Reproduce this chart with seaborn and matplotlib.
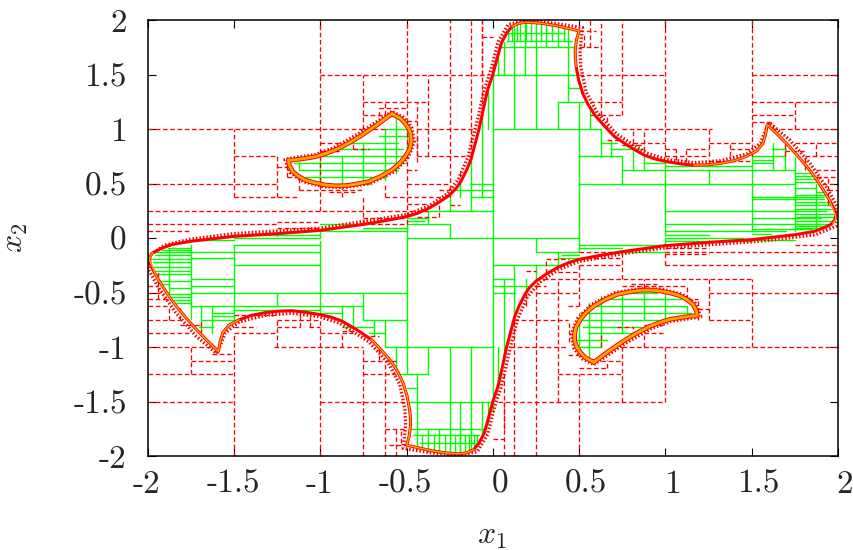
import pandas as pd
import matplotlib
matplotlib.use('Agg')
import matplotlib.pyplot as plt
import matplotlib.transforms as mtrans
import seaborn as sns

# boundary of the large region
main_x = [-1.99, -1.985, -1.97, -1.92, -1.86, -1.75, -1.61, -1.5, -1.25, -1, -0.75, -0.62, -0.5, -0.44, -0.375, -0.31, -0.25, -0.21, -0.185, -0.15, -0.127, -0.08, -0.05, -0.03, 0, 0.025, 0.05, 0.08, 0.11, 0.15, 0.2, 0.28, 0.36, 0.43, 0.5,
          0.485, 0.477, 0.478, 0.483, 0.497, 0.52, 0.55, 0.59, 0.645, 0.705, 0.79, 0.877, 0.94, 1.01, 1.09, 1.165, 1.245, 1.32, 1.4, 1.47, 1.53, 1.565, 1.58, 1.59,
          1.65, 1.7, 1.76, 1.82, 1.87, 1.915, 1.95, 1.97, 1.985, 1.987, 1.98, 1.96, 1.92, 1.86, 1.75, 1.61, 1.5, 1.25, 1, 0.75, 0.62, 0.5, 0.44, 0.375, 0.31, 0.25, 0.21, 0.185, 0.15, 0.127, 0.08, 0.05, 0.03, 0, -0.025, -0.05, -0.08, -0.11, -0.15, -0.2, -0.28, -0.36, -0.43, -0.5,
          -0.485, -0.477, -0.478, -0.483, -0.497, -0.52, -0.55, -0.59, -0.645, -0.705, -0.79, -0.877, -0.94, -1.01, -1.09, -1.165, -1.245, -1.32, -1.4, -1.47, -1.53, -1.565, -1.58, -1.59,
          -1.65, -1.7, -1.76, -1.82, -1.87, -1.915, -1.95, -1.97, -1.985, -1.99]
main_y = [-0.2, -0.165, -0.135, -0.095, -0.06, -0.03, -0.005, 0.015, 0.04, 0.07, 0.125, 0.16, 0.196, 0.225, 0.27, 0.33, 0.395, 0.46, 0.52, 0.63, 0.72, 1, 1.22, 1.36, 1.5, 1.65, 1.79, 1.88, 1.94, 1.97, 1.98, 1.97, 1.95, 1.925, 1.9,
          1.82, 1.72, 1.64, 1.57, 1.45, 1.33, 1.23, 1.13, 1.03, 0.93, 0.84, 0.76, 0.725, 0.7, 0.68, 0.667, 0.672, 0.685, 0.71, 0.75, 0.8, 0.87, 0.95, 1.04,
          0.95, 0.87, 0.765, 0.655, 0.55, 0.44, 0.35, 0.29, 0.24, 0.2, 0.165, 0.125, 0.095, 0.06, 0.03, 0.005, -0.015, -0.04, -0.07, -0.125, -0.16, -0.196, -0.225, -0.27, -0.33, -0.395, -0.46, -0.52, -0.63, -0.72, -1, -1.22, -1.36, -1.5, -1.65, -1.79, -1.88, -1.94, -1.97, -1.98, -1.97, -1.95, -1.925, -1.9,
          -1.82, -1.72, -1.64, -1.57, -1.45, -1.33, -1.23, -1.13, -1.03, -0.93, -0.84, -0.76, -0.725, -0.7, -0.68, -0.667, -0.672, -0.685, -0.71, -0.75, -0.8, -0.87, -0.95, -1.04,
          -0.95, -0.87, -0.765, -0.655, -0.55, -0.44, -0.35, -0.29, -0.24, -0.2]

# the two small lobes
lobe1_x = [-0.585, -0.67, -0.758, -0.83, -0.91, -0.97, -1.027, -1.09, -1.16, -1.185, -1.18, -1.16, -1.125, -1.085, -1.03, -0.97, -0.91, -0.854, -0.79, -0.72, -0.65, -0.585, -0.54, -0.508, -0.482, -0.473, -0.475, -0.488, -0.51, -0.536, -0.585]
lobe1_y = [1.14, 1.04, 0.945, 0.875, 0.81, 0.775, 0.746, 0.73, 0.715, 0.715, 0.67, 0.61, 0.565, 0.53, 0.505, 0.486, 0.478, 0.48, 0.495, 0.517, 0.565, 0.624, 0.685, 0.746, 0.815, 0.884, 0.95, 1.006, 1.055, 1.098, 1.14]
lobe2_x = [0.585, 0.67, 0.758, 0.83, 0.91, 0.97, 1.027, 1.09, 1.16, 1.185, 1.18, 1.16, 1.125, 1.085, 1.03, 0.97, 0.91, 0.854, 0.79, 0.72, 0.65, 0.585, 0.54, 0.508, 0.482, 0.473, 0.475, 0.488, 0.51, 0.536, 0.585]
lobe2_y = [-1.14, -1.04, -0.945, -0.875, -0.81, -0.775, -0.746, -0.73, -0.715, -0.715, -0.67, -0.61, -0.565, -0.53, -0.505, -0.486, -0.478, -0.48, -0.495, -0.517, -0.565, -0.624, -0.685, -0.746, -0.815, -0.884, -0.95, -1.006, -1.055, -1.098, -1.14]

# fuzzy edge just outside the boundaries
fuzz_x = [-2, -1.9, -1.75, -1.5, -1, -0.5, -0.375, -0.26, -0.2, -0.145, -0.085, -0.05, -0.01, 0.03, 0.09, 0.2, 0.36, 0.52,
          0.505, 0.51, 0.54, 0.605, 0.72, 0.89, 1.01, 1.165, 1.32, 1.47, 1.55, 1.6, 1.72, 1.84, 1.94, 1.995, 2,
          1.99, 1.87, 1.61, 1.5, 1, 0.75, 0.5, 0.38, 0.27, 0.2, 0.145, 0.1, 0.05, 0.01, -0.03, -0.09, -0.2, -0.36, -0.52,
          -0.505, -0.51, -0.54, -0.605, -0.72, -0.89, -1.01, -1.165, -1.32, -1.47, -1.55, -1.6, -1.72, -1.84, -1.94, -1.995, -2]
fuzz_y = [-0.17, -0.065, -0.01, 0.04, 0.09, 0.215, 0.29, 0.41, 0.54, 0.74, 1.11, 1.36, 1.55, 1.8, 1.96, 1.995, 1.97, 1.93,
          1.72, 1.57, 1.34, 1.15, 0.95, 0.78, 0.72, 0.69, 0.71, 0.77, 0.87, 1.06, 0.9, 0.68, 0.45, 0.29, 0.2,
          0.11, 0.03, -0.02, -0.035, -0.09, -0.145, -0.215, -0.29, -0.41, -0.54, -0.74, -1.01, -1.36, -1.55, -1.8, -1.96, -1.995, -1.97, -1.93,
          -1.72, -1.57, -1.34, -1.15, -0.95, -0.78, -0.72, -0.69, -0.71, -0.77, -0.87, -1.06, -0.9, -0.68, -0.45, -0.29, -0.17]
fuzz1_x = [-0.585, -0.77, -0.92, -1.03, -1.16, -1.205, -1.175, -1.095, -0.98, -0.854, -0.71, -0.57, -0.49, -0.455, -0.47, -0.52, -0.585]
fuzz1_y = [1.16, 0.965, 0.83, 0.765, 0.735, 0.72, 0.6, 0.515, 0.47, 0.465, 0.5, 0.61, 0.74, 0.88, 1.015, 1.11, 1.16]
fuzz2_x = [0.585, 0.77, 0.92, 1.03, 1.16, 1.205, 1.175, 1.095, 0.98, 0.854, 0.71, 0.57, 0.49, 0.455, 0.47, 0.52, 0.585]
fuzz2_y = [-1.16, -0.965, -0.83, -0.765, -0.735, -0.72, -0.6, -0.515, -0.47, -0.465, -0.5, -0.61, -0.74, -0.88, -1.015, -1.11, -1.16]

# red dashed boxes: horizontals are (y, x0, x1), verticals are (x, y0, y1)
red_h = [(1.75, 0.5, 0.625), (1.5, -1, -0.03), (1.5, 0.5, 1), (1.5, 1.5, 2), (1.25, -0.75, -0.375), (1.25, 0.5625, 0.75),
         (1.25, 1.5, 2), (1.125, -0.75, -0.625), (1.125, 0.625, 0.75), (1.125, 1.5, 1.75), (1.0625, 1.5, 1.625),
         (1, -2, -0.625), (1, -0.4375, -0.1), (1, 0.75, 1.27), (1, 1.625, 2), (0.875, -1, -0.875), (0.875, 0.8125, 1),
         (0.875, 1.25, 1.5), (0.875, 1.75, 2), (0.8125, 1.375, 1.5), (0.75, -1.5, -1.25), (0.75, -0.4375, -0.125),
         (0.75, 1, 1.25), (0.75, 1.81, 2), (0.625, -0.5, -0.4375), (0.625, 1.875, 2), (0.5, -2, -1.25), (0.5, -0.5, -0.25),
         (0.375, -1.5, -1.125), (0.375, -0.625, -0.25), (0.3125, -0.5, -0.375), (0.25, -2, -0.375), (0.1875, -0.75, -0.5),
         (0.125, -2, -1.25), (0.125, -0.75, -0.5), (0.0625, -2, -1.75), (0.09, -1.25, -1),
         (-1.75, -0.625, -0.5), (-1.5, 0.03, 1), (-1.5, -1, -0.5), (-1.5, -2, -1.5), (-1.25, 0.375, 0.75), (-1.25, -0.75, -0.5625),
         (-1.25, -2, -1.5), (-1.125, 0.625, 0.75), (-1.125, -0.75, -0.625), (-1.125, -1.75, -1.5), (-1.0625, -1.625, -1.5),
         (-1, 0.75, 2), (-1, 0.1, 0.4375), (-1, -1.27, -0.75), (-1, -2, -1.625), (-0.875, 0.875, 1), (-0.875, -1, -0.8125),
         (-0.875, -1.5, -1.25), (-0.875, -2, -1.75), (-0.8125, -1.5, -1.375), (-0.75, 1.25, 1.5), (-0.75, 0.125, 0.4375),
         (-0.75, -1.25, -1), (-0.75, -2, -1.81), (-0.625, 0.4375, 0.5), (-0.625, -2, -1.875), (-0.5, 1.25, 2), (-0.5, 0.25, 0.5),
         (-0.375, 0.25, 1.5), (-0.3125, 0.375, 0.5), (-0.25, 1, 2), (-0.25, 0.5, 0.75), (-0.1875, 0.5, 0.75),
         (-0.125, 1, 2), (-0.125, 0.5, 0.75), (-0.0625, 1.75, 2), (-0.09, 1, 1.25)]
red_v = [(-1.5, 0.375, 1), (-1.25, 0.375, 0.75), (-1, 0.25, 2), (-0.75, 1, 1.5), (-0.75, 0.125, 0.375), (-0.625, 1.125, 1.25),
         (-0.625, 0.375, 0.5), (-0.5, 0.125, 2), (-0.4375, 0.7, 1.25), (-0.375, 0.75, 1.5), (-0.25, 0.375, 2), (-0.125, 0.75, 2),
         (-0.0625, 1.1, 2), (0.5625, 1.75, 2), (0.625, 1.125, 2), (0.75, 1.125, 2), (0.8125, 0.875, 1), (0.875, 0.8, 1),
         (1, 0.75, 2), (1.25, 0.75, 1), (1.375, 0.75, 0.875), (1.5, 0.75, 2), (1.625, 1, 1.0625), (1.75, 1, 1.25), (1.875, 0.75, 0.875),
         (1.5, -1, -0.375), (1.25, -0.75, -0.375), (1, -1.5, -1), (1, -0.25, -0.125), (0.75, -0.375, -0.125), (0.75, -1.5, -1), (0.625, -1, -0.875),
         (0.5, -2, -1.25), (0.5, -0.625, -0.25), (0.375, -1.5, -0.375), (0.25, -2, -0.375), (0.125, -2, -0.75), (0.0625, -1.75, -1.25),
         (0.875, -1, -0.875), (-1.75, -1.25, -1), (-1.25, -1, -0.75), (-1, -2, -0.75), (-1.5, -2, -0.875), (-0.875, -1, -0.875),
         (-0.75, -2, -1), (-0.625, -2, -1.125), (-0.5625, -2, -1.75), (-1.875, -0.75, -0.625)]

# small boxes in the fuzz, only the ones that stand out
red_small_h = [(0.8, -1.0, -0.875), (0.82, -0.8125, -0.72), (0.65, -1.25, -1.19), (0.56, -1.19, -1.125), (0.4375, -1.125, -0.75), (0.42, -0.95, -0.8),
               (1.19, -0.66, -0.5), (1.07, -0.5, -0.4375), (0.3, -0.25, -0.19), (0.44, -0.31, -0.25), (0.19, -0.44, -0.31), (0.15, -1.25, -1.0),
               (1.84, -0.0625, 0.0), (1.9, 0.5, 0.6), (1.13, 0.5625, 0.625), (0.9, 0.66, 0.75), (0.85, 0.75, 0.875), (0.82, 1.0, 1.0625),
               (0.82, 1.12, 1.25), (0.71, 1.25, 1.5), (0.56, 1.87, 2), (0.5, 1.91, 2), (0.44, 1.94, 2), (0.8, 1.69, 1.81),
               (-0.8, 0.875, 1.0), (-0.82, 0.72, 0.8125), (-0.65, 1.19, 1.25), (-0.56, 1.125, 1.19), (-0.4375, 0.75, 1.125), (-0.42, 0.8, 0.95),
               (-1.19, 0.5, 0.66), (-1.07, 0.4375, 0.5), (-0.3, 0.19, 0.25), (-0.44, 0.25, 0.31), (-0.19, 0.31, 0.44), (-0.15, 1.0, 1.25),
               (-1.84, 0.0, 0.0625), (-1.9, -0.6, -0.5), (-1.13, -0.625, -0.5625), (-0.9, -0.75, -0.66), (-0.85, -0.875, -0.75), (-0.82, -1.0625, -1.0),
               (-0.82, -1.25, -1.12), (-0.71, -1.5, -1.25), (-0.56, -2, -1.87), (-0.5, -2, -1.91), (-0.44, -2, -1.94), (-0.8, -1.81, -1.69)]
red_small_v = [(-1.19, 0.56, 0.75), (-1.125, 0.44, 0.56), (-0.875, 0.375, 0.46), (-0.81, 0.82, 0.9), (-0.66, 1.12, 1.19), (-0.44, 0.75, 0.95),
               (-0.31, 0.19, 0.32), (-0.19, 0.5, 0.62), (-0.0625, 1.5, 2), (0.53, 1.75, 1.88), (0.66, 1, 1.12), (1.06, 0.72, 0.82), (1.12, 0.7, 0.82),
               (1.69, 0.75, 0.88), (1.81, 0.62, 0.75), (1.94, 0.3, 0.56),
               (1.19, -0.75, -0.56), (1.125, -0.56, -0.44), (0.875, -0.46, -0.375), (0.81, -0.9, -0.82), (0.66, -1.19, -1.12), (0.44, -0.95, -0.75),
               (0.31, -0.32, -0.19), (0.19, -0.62, -0.5), (0.0625, -2, -1.5), (-0.53, -1.88, -1.75), (-0.66, -1.12, -1), (-1.06, -0.82, -0.72),
               (-1.12, -0.82, -0.7), (-1.69, -0.88, -0.75), (-1.81, -0.75, -0.62), (-1.94, -0.56, -0.3)]

# green solid boxes
green_h = [(1.88, 0.08, 0.42), (1.81, 0.08, 0.46), (1.75, 0.04, 0.48), (1.5, 0, 0.48), (1.375, 0.4375, 0.5), (1.25, 0.375, 0.53), (1, 0, 0.625),
           (0.875, 0.625, 0.72), (0.75, 0.5, 0.75), (0.8125, 0.69, 0.875), (0.6875, 0.875, 1), (0.625, 0.75, 1.75),
           (0.5, 0.5, 1.75), (0.25, 1, 1.93), (0.125, 1, 1.9), (0.1875, 1.5, 1.9), (0.0625, 1, 1.5), (0.0625, 1.5, 1.7), (0, 0, 0.5), (0, 1, 1.45), (0.375, 1.5, 1.92), (0.36, 1.5, 1.92), (0.03, 1, 1.25),
           (0.6875, 1.5, 1.625), (0.66, 1, 1.5), (0.72, 1.5, 1.625), (0.75, 1.5, 1.625),
           (0.6, 1.75, 1.85), (0.57, 1.75, 1.85), (0.54, 1.75, 1.875), (0.51, 1.75, 1.875), (0.46, 1.75, 1.875), (0.42, 1.875, 1.93), (0.39, 1.75, 1.93), (0.33, 1.75, 1.96),
           (0.3, 1.75, 1.96), (0.27, 1.75, 1.97), (0.22, 1.75, 1.97), (0.19, 1.75, 1.98), (0.16, 1.75, 1.96), (0.13, 1.75, 1.95), (0.11, 1.75, 1.92), (0.09, 1.75, 1.88), (0.75, 1.62, 1.69),
           (0.8125, 1.62, 1.7), (0.08, 1.5, 1.85), (0.04, 1.5, 1.61),
           (0.875, -0.82, -0.55), (0.8125, -0.9, -0.52), (0.75, -1.0, -0.5), (0.6875, -1.15, -0.5), (0.625, -1.125, -0.55), (0.5625, -1.09, -0.62), (0.5, -0.95, -0.72), (1, -0.625, -0.5), (0.94, -0.66, -0.49),
           (0.5, -0.13, 0), (0.4375, -0.22, 0), (0.375, -0.125, 0), (0.25, -0.375, 0), (0.1875, -0.5, -0.375), (0.125, -0.5, -0.25), (0.125, -1, -0.75), (0.0625, -1, -0.5), (0.09, -0.75, -0.5), (0.03, -1.5, -1), (0, -1.5, -1), (0, -0.5, 0), (-0.02, -1.75, -1.5),
           (0.155, -0.5, -0.4),
           (-1.88, -0.42, -0.08), (-1.81, -0.46, -0.08), (-1.75, -0.48, -0.04), (-1.5, -0.48, 0), (-1.375, -0.5, -0.4375), (-1.25, -0.53, -0.375), (-1, -0.625, 0),
           (-0.875, -0.72, -0.625), (-0.75, -0.75, -0.5), (-0.8125, -0.875, -0.69), (-0.6875, -1, -0.875), (-0.625, -1.75, -0.75),
           (-0.5, -1.75, -0.5), (-0.25, -1.5, -1), (-0.125, -1.75, -1), (-0.1875, -1.75, -1.5), (-0.0625, -1.5, -1), (-0.375, -1.75, -1.5), (-0.4375, -1.75, -1.5),
           (-0.6875, -1.625, -1.5), (-0.66, -1.5, -1), (-0.72, -1.625, -1.5), (-0.75, -1.625, -1.5),
           (-0.6, -1.85, -1.75), (-0.57, -1.85, -1.75), (-0.54, -1.875, -1.75), (-0.51, -1.875, -1.75), (-0.46, -1.875, -1.75), (-0.42, -1.93, -1.875), (-0.39, -1.93, -1.75), (-0.33, -1.96, -1.75),
           (-0.3, -1.96, -1.75), (-0.27, -1.97, -1.75), (-0.22, -1.97, -1.75), (-0.19, -1.98, -1.75), (-0.16, -1.96, -1.75), (-0.13, -1.95, -1.75), (-0.11, -1.92, -1.75), (-0.09, -1.88, -1.75), (-0.75, -1.69, -1.62),
           (-0.8125, -1.7, -1.62),
           (-0.875, 0.55, 0.82), (-0.8125, 0.52, 0.9), (-0.75, 0.5, 1.0), (-0.6875, 0.5, 1.15), (-0.625, 0.55, 1.125), (-0.5625, 0.62, 1.09), (-0.5, 0.72, 0.95), (-1, 0.5, 0.625), (-0.94, 0.49, 0.66),
           (-0.5, 0, 0.13), (-0.4375, 0, 0.22), (-0.375, 0, 0.125), (-0.25, 0, 0.375), (-0.1875, 0.375, 0.5), (-0.125, 0.25, 0.5), (-0.125, 0.75, 1), (-0.0625, 0.5, 1), (-0.09, 0.5, 0.75), (-0.03, 1, 1.5), (-0.02, 1.5, 1.75), (-0.155, 0.4, 0.5)]
green_v = [(0, 0, 1.5), (0, 1.5, 1.6), (0.0625, 1.5, 1.8), (0.125, 1, 1.94), (0.1875, 1.5, 1.98), (0.25, 1, 1.98), (0.31, 1.75, 1.97), (0.375, 1.75, 1.96), (0.375, 1, 1.25),
           (0.4375, 1.25, 1.94), (0.5, 0, 1.25), (0.5625, 1, 1.2), (0.625, 0.75, 1.0), (0.6875, 0.75, 0.9), (0.75, 0.5, 0.75), (0.8125, 0.625, 0.8), (0.875, 0.625, 0.75), (1, 0.03, 0.7),
           (1.25, 0.5, 0.625), (1.5, 0.06, 0.75), (1.625, 0.625, 0.87), (1.75, 0.625, 0.74), (1.69, 0.625, 0.85), (1.75, 0.06, 0.625), (1.875, 0.1, 0.5),
           (0.09, 1.81, 1.9), (0.11, 1.81, 1.93), (0.14, 1.81, 1.96), (0.16, 1.81, 1.97), (0.22, 1.81, 1.98), (0.28, 1.81, 1.97), (0.34, 1.81, 1.96), (0.41, 1.81, 1.94), (0.19, 1.81, 1.98), (0.03, 1.5, 1.7),
           (-0.875, 0.5, 0.75), (-0.75, 0.5, 0.875), (-0.625, 0.53, 1), (-0.56, 0.6, 1.12), (-0.5, 0.75, 1), (-1.0, 0.5, 0.75), (-1.125, 0.625, 0.7),
           (-0.125, 0.25, 0.75), (-0.0625, 0.5, 1.1), (-0.03, 1, 1.36), (-0.25, 0.25, 0.375), (-0.25, 0, 0.125), (-0.375, 0.125, 0.25), (-0.5, 0, 0.125), (-1, 0, 0.06), (-1.25, 0.02, 0.05),
           (-0.19, 0.375, 0.5), (-0.0625, 0.375, 0.5),
           (0, -1.5, 0), (0, -1.6, -1.5), (-0.0625, -1.8, -1.5), (-0.125, -1.94, -1), (-0.1875, -1.98, -1.5), (-0.25, -1.98, -1), (-0.31, -1.97, -1.75), (-0.375, -1.96, -1.75), (-0.375, -1.25, -1),
           (-0.4375, -1.94, -1.25), (-0.5, -1.25, 0), (-0.5625, -1.2, -1), (-0.625, -1, -0.75), (-0.6875, -0.9, -0.75), (-0.75, -0.75, -0.5), (-0.8125, -0.8, -0.625), (-0.875, -0.75, -0.625), (-1, -0.7, -0.03),
           (-1.25, -0.625, -0.5), (-1.5, -0.75, -0.06), (-1.625, -0.87, -0.625), (-1.75, -0.74, -0.625), (-1.69, -0.85, -0.625), (-1.75, -0.625, -0.06), (-1.875, -0.5, -0.1),
           (-0.09, -1.9, -1.81), (-0.11, -1.93, -1.81), (-0.14, -1.96, -1.81), (-0.16, -1.97, -1.81), (-0.22, -1.98, -1.81), (-0.28, -1.97, -1.81), (-0.34, -1.96, -1.81), (-0.41, -1.94, -1.81), (-0.19, -1.98, -1.81), (-0.03, -1.7, -1.5),
           (0.875, -0.75, -0.5), (0.75, -0.875, -0.5), (0.625, -1, -0.53), (0.56, -1.12, -0.6), (0.5, -1, -0.75), (1.0, -0.75, -0.5), (1.125, -0.7, -0.625),
           (0.125, -0.75, -0.25), (0.0625, -1.1, -0.5), (0.03, -1.36, -1), (0.25, -0.375, -0.25), (0.25, -0.125, 0), (0.375, -0.25, -0.125), (0.5, -0.125, 0), (1, -0.06, 0), (1.25, -0.05, -0.02),
           (0.19, -0.5, -0.375), (0.0625, -0.5, -0.375)]

# parts of the boundary that show orange on top of the red
orange1_x = [-1.97, -1.985, -1.99, -1.95, -1.915, -1.87, -1.82, -1.76, -1.7, -1.65, -1.59, -1.58, -1.565, -1.53, -1.47]
orange1_y = [-0.135, -0.165, -0.2, -0.35, -0.44, -0.55, -0.655, -0.765, -0.87, -0.95, -1.04, -0.95, -0.87, -0.8, -0.75]
orange2_x = [1.97, 1.985, 1.987, 1.95, 1.915, 1.87, 1.82, 1.76, 1.7, 1.65, 1.59, 1.58, 1.565, 1.53, 1.47, 1.4, 1.32, 1.245, 1.165]
orange2_y = [0.135, 0.165, 0.2, 0.35, 0.44, 0.55, 0.655, 0.765, 0.87, 0.95, 1.04, 0.95, 0.87, 0.8, 0.75, 0.71, 0.685, 0.672, 0.667]
orange3_x = [0.11, 0.15, 0.2, 0.28, 0.36, 0.43, 0.5, 0.485, 0.477, 0.478, 0.483]
orange3_y = [1.94, 1.97, 1.98, 1.97, 1.95, 1.925, 1.9, 1.82, 1.72, 1.64, 1.57]
orange4_x = [-0.11, -0.15, -0.2, -0.28, -0.36, -0.43, -0.5, -0.485, -0.477, -0.478, -0.483, -0.497, -0.52, -0.55, -0.59, -0.645, -0.705]
orange4_y = [-1.94, -1.97, -1.98, -1.97, -1.95, -1.925, -1.9, -1.82, -1.72, -1.64, -1.57, -1.45, -1.33, -1.23, -1.13, -1.03, -0.93]

ticks = [-2, -1.5, -1, -0.5, 0, 0.5, 1, 1.5, 2]
tick_labels = ['-2', '-1.5', '-1', '-0.5', '0', '0.5', '1', '1.5', '2']


def segments(hor, ver):
    rows = []
    n = 0
    for y, x0, x1 in hor:
        rows += [(n, x0, y), (n, x1, y)]
        n += 1
    for x, y0, y1 in ver:
        rows += [(n, x, y0), (n, x, y1)]
        n += 1
    return pd.DataFrame(rows, columns=['seg', 'x', 'y'])


def curve(ax, xs, ys, **kws):
    sns.lineplot(x=xs, y=ys, ax=ax, sort=False, estimator=None, errorbar=None, legend=False, **kws)


sns.set_style('white')
plt.rcParams['font.family'] = ['cmr10', 'DejaVu Sans']
plt.rcParams['mathtext.fontset'] = 'cm'
plt.rcParams['axes.unicode_minus'] = False

fig = plt.figure(figsize=(8.54, 5.5), dpi=100)
ax = fig.add_axes([147.7 / 854, 1 - 456 / 550, 690.3 / 854, 436 / 550])

sns.lineplot(data=segments(green_h, green_v), x='x', y='y', units='seg', estimator=None, sort=False,
             color='#00ff00', linewidth=1.0, ax=ax, legend=False)
sns.lineplot(data=segments(red_h + red_small_h, red_v + red_small_v), x='x', y='y', units='seg', estimator=None, sort=False,
             color='#ff0000', linewidth=0.95, linestyle=(0, (3.5, 2)), ax=ax, legend=False)

# comb of red ticks along the edge, then the edge itself
for xs, ys in [(fuzz_x, fuzz_y), (fuzz1_x, fuzz1_y), (fuzz2_x, fuzz2_y)]:
    curve(ax, xs, ys, color='#ff0000', linewidth=2.4, linestyle=(0, (0.45, 0.6)))
curve(ax, main_x, main_y, color='#ff0000', linewidth=2.2)
for xs, ys in [(lobe1_x, lobe1_y), (lobe2_x, lobe2_y)]:
    curve(ax, xs, ys, color='#ff0000', linewidth=3.4)
    curve(ax, xs, ys, color='#ffa500', linewidth=2.0)
for xs, ys in [(orange1_x, orange1_y), (orange2_x, orange2_y), (orange3_x, orange3_y), (orange4_x, orange4_y)]:
    curve(ax, xs, ys, color='#ffa500', linewidth=1.0)

ax.set_xlim(-2, 2)
ax.set_ylim(-2, 2)
ax.set_xticks(ticks)
ax.set_xticklabels(tick_labels)
ax.set_yticks(ticks)
ax.set_yticklabels(tick_labels)
ax.tick_params(direction='in', top=True, right=True, bottom=True, left=True, length=6, width=0.8, labelsize=24, color='black')
ax.tick_params(axis='x', pad=10)
ax.tick_params(axis='y', pad=15)
# the non-negative x labels sit a little right of their ticks in the original
for label, tick in zip(ax.get_xticklabels(), ticks):
    shift = 7 if tick >= 0 else -1
    label.set_transform(label.get_transform() + mtrans.ScaledTranslation(shift / 100, 0, fig.dpi_scale_trans))
for s in ax.spines.values():
    s.set_linewidth(1.1)
    s.set_color('black')
ax.set_xlabel('$x_1$', fontsize=23)
ax.set_ylabel('$x_2$', fontsize=23)
ax.xaxis.set_label_coords(344 / 690.3, -0.155)
ax.yaxis.set_label_coords(-0.17, 0.5)

fig.savefig('out.png', dpi=100)
